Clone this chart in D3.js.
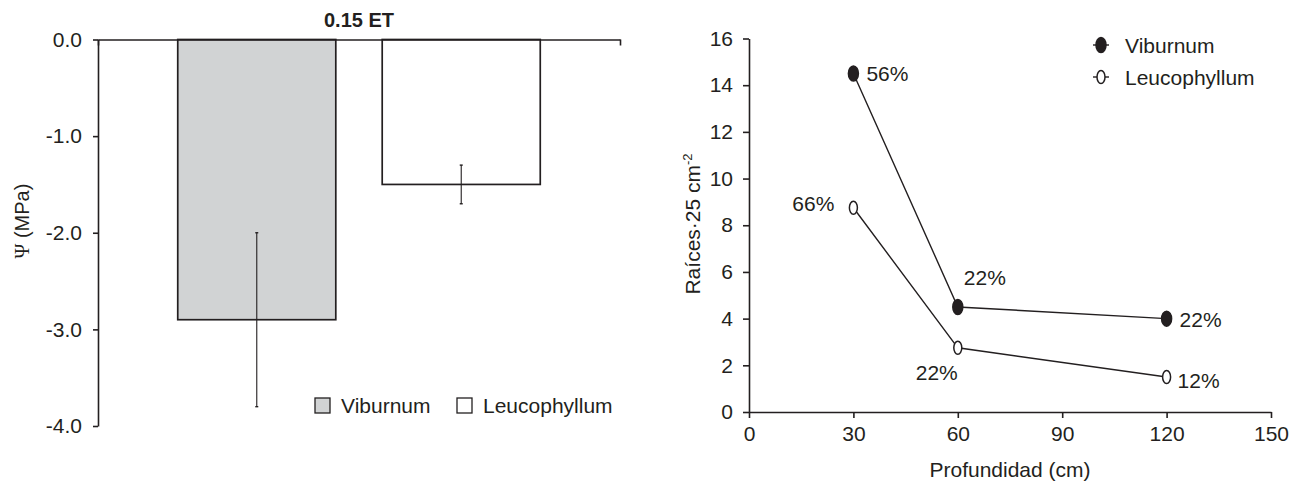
<!DOCTYPE html>
<html>
<head>
<meta charset="utf-8">
<script src="https://cdn.jsdelivr.net/npm/d3@7"></script>
<style>
  html, body { margin: 0; padding: 0; background: #fff; }
  svg { display: block; }
  text { font-family: "Liberation Sans", Arial, Helvetica, sans-serif; fill: #231f20; }
</style>
</head>
<body>
<svg id="chart" width="1293" height="485"></svg>
<script>
// Water potential (left panel)
const species = ["Viburnum", "Leucophyllum"];
const psiMean = [-2.9, -1.5];
const psiErr = [0.9, 0.2];
const psiTicks = [0, -1, -2, -3, -4];
const psiTickLabels = ["0.0", "-1.0", "-2.0", "-3.0", "-4.0"];

// Root density by depth (right panel)
const depths = [30, 60, 120];
const viburnumRoots = [14.5, 4.5, 4.0];
const leucophyllumRoots = [8.75, 2.75, 1.5];
const viburnumPct = ["56%", "22%", "22%"];
const leucophyllumPct = ["66%", "22%", "12%"];
const depthTicks = [0, 30, 60, 90, 120, 150];
const rootTicks = [0, 2, 4, 6, 8, 10, 12, 14, 16];

const ink = "#231f20";
const grey = "#d1d3d4";
const fs = 21;

const svg = d3.select("#chart");
svg.append("rect").attr("width", 1293).attr("height", 485).attr("fill", "#fff");

function styleAxis(g) {
  g.selectAll("path, line").attr("stroke", ink).attr("stroke-width", 1.6);
  g.selectAll("text").attr("font-size", fs).attr("fill", ink)
    .attr("font-family", '"Liberation Sans", Arial, sans-serif');
}

// ---------- left panel ----------
const L = { x0: 98, x1: 620, y0: 39.5, y1: 426 };
const yL = d3.scaleLinear().domain([0, -4]).range([L.y0, L.y1]);
const xL = d3.scaleBand().domain(species).range([L.x0, L.x1])
  .paddingInner(0.227).paddingOuter(0.39);

const left = svg.append("g");

// bars
left.selectAll("rect.bar").data(species).join("rect")
  .attr("class", "bar")
  .attr("x", d => xL(d))
  .attr("y", yL(0))
  .attr("width", xL.bandwidth())
  .attr("height", (d, i) => yL(psiMean[i]) - yL(0))
  .attr("fill", (d, i) => i === 0 ? grey : "#fff")
  .attr("stroke", ink).attr("stroke-width", 1.7);

// error bars
const eb = left.selectAll("g.err").data(species).join("g").attr("class", "err");
eb.append("line")
  .attr("x1", d => xL(d) + xL.bandwidth() / 2).attr("x2", d => xL(d) + xL.bandwidth() / 2)
  .attr("y1", (d, i) => yL(psiMean[i] + psiErr[i]))
  .attr("y2", (d, i) => yL(psiMean[i] - psiErr[i]))
  .attr("stroke", ink).attr("stroke-width", 1.1);
[1, -1].forEach(s => {
  eb.append("line")
    .attr("x1", d => xL(d) + xL.bandwidth() / 2 - 1.5)
    .attr("x2", d => xL(d) + xL.bandwidth() / 2 + 1.5)
    .attr("y1", (d, i) => yL(psiMean[i] + s * psiErr[i]))
    .attr("y2", (d, i) => yL(psiMean[i] + s * psiErr[i]))
    .attr("stroke", ink).attr("stroke-width", 1.4);
});

// y axis
left.append("g").attr("transform", `translate(${L.x0},0)`)
  .call(d3.axisLeft(yL).tickValues(psiTicks)
    .tickFormat((d, i) => psiTickLabels[i]).tickSize(5).tickSizeOuter(0).tickPadding(11))
  .call(styleAxis);

// category axis along zero line
const xEdge = d3.scaleLinear().domain([0, 1]).range([L.x0, L.x1]);
left.append("g").attr("transform", `translate(0,${yL(0)})`)
  .call(d3.axisBottom(xEdge).tickValues([0, 1]).tickFormat("").tickSize(6).tickSizeOuter(0))
  .call(styleAxis);

// title
left.append("text").attr("x", (L.x0 + L.x1) / 2).attr("y", 27)
  .attr("text-anchor", "middle").attr("font-size", 20).attr("font-weight", "bold")
  .text("0.15 ET");

// y title
const yt = left.append("text")
  .attr("transform", "translate(29,221) rotate(-90)")
  .attr("text-anchor", "middle").attr("font-size", 20);
yt.append("tspan").attr("font-family", '"Liberation Serif", "Times New Roman", serif').text("Ψ");
yt.append("tspan").text(" (MPa)");

// legend
const legL = left.append("g");
const legX = [315, 457];
species.forEach((s, i) => {
  legL.append("rect").attr("x", legX[i]).attr("y", 398).attr("width", 15).attr("height", 15)
    .attr("fill", i === 0 ? grey : "#fff").attr("stroke", ink).attr("stroke-width", 1.3);
  legL.append("text").attr("x", legX[i] + 26).attr("y", 413).attr("font-size", fs).text(s);
});

// ---------- right panel ----------
const R = { x0: 749, x1: 1271, y0: 412, y1: 38.5 };
const xR = d3.scaleLinear().domain([0, 150]).range([R.x0, R.x1]);
const yR = d3.scaleLinear().domain([0, 16]).range([R.y0, R.y1]);

const right = svg.append("g");

right.append("g").attr("transform", `translate(${R.x0},0)`)
  .call(d3.axisLeft(yR).tickValues(rootTicks).tickSize(6).tickSizeOuter(0).tickPadding(10))
  .call(styleAxis);
right.append("g").attr("transform", `translate(0,${R.y0})`)
  .call(d3.axisBottom(xR).tickValues(depthTicks).tickSize(6).tickSizeOuter(0).tickPadding(8))
  .call(styleAxis);

const line = d3.line().x((d, i) => xR(depths[i])).y(d => yR(d));

const seriesR = [
  { name: "Viburnum", values: viburnumRoots, pct: viburnumPct, fill: ink, rx: 5, ry: 7.5,
    off: [[13, 7, "start"], [6, -22, "start"], [13, 8, "start"]] },
  { name: "Leucophyllum", values: leucophyllumRoots, pct: leucophyllumPct, fill: "#fff", rx: 4, ry: 6.5,
    off: [[-19, 3, "end"], [0, 32, "end"], [11, 11, "start"]] }
];

seriesR.forEach(s => {
  right.append("path").datum(s.values).attr("d", line)
    .attr("fill", "none").attr("stroke", ink).attr("stroke-width", 1.4);
  right.selectAll(null).data(s.values).join("ellipse")
    .attr("cx", (d, i) => xR(depths[i])).attr("cy", d => yR(d))
    .attr("rx", s.rx).attr("ry", s.ry)
    .attr("fill", s.fill).attr("stroke", ink).attr("stroke-width", 1.5);
  right.selectAll(null).data(s.values).join("text")
    .attr("x", (d, i) => xR(depths[i]) + s.off[i][0])
    .attr("y", (d, i) => yR(d) + s.off[i][1])
    .attr("text-anchor", (d, i) => s.off[i][2])
    .attr("font-size", fs)
    .text((d, i) => s.pct[i]);
});

// axis titles
right.append("text").attr("x", (R.x0 + R.x1) / 2).attr("y", 477)
  .attr("text-anchor", "middle").attr("font-size", fs).text("Profundidad (cm)");
const ryt = right.append("text")
  .attr("transform", "translate(700,224) rotate(-90)")
  .attr("text-anchor", "middle").attr("font-size", fs);
ryt.append("tspan").text("Raíces·25 cm");
ryt.append("tspan").attr("font-size", 13).attr("dy", -8).text("-2");

// legend
const legR = right.append("g");
const legRY = [45, 77];
seriesR.forEach((s, i) => {
  legR.append("line").attr("x1", 1093).attr("x2", 1109).attr("y1", legRY[i]).attr("y2", legRY[i])
    .attr("stroke", ink).attr("stroke-width", 1.4);
  legR.append("ellipse").attr("cx", 1101).attr("cy", legRY[i]).attr("rx", s.rx).attr("ry", s.ry)
    .attr("fill", s.fill).attr("stroke", ink).attr("stroke-width", 1.5);
  legR.append("text").attr("x", 1125).attr("y", legRY[i] + 8).attr("font-size", fs).text(s.name);
});
</script>
</body>
</html>
